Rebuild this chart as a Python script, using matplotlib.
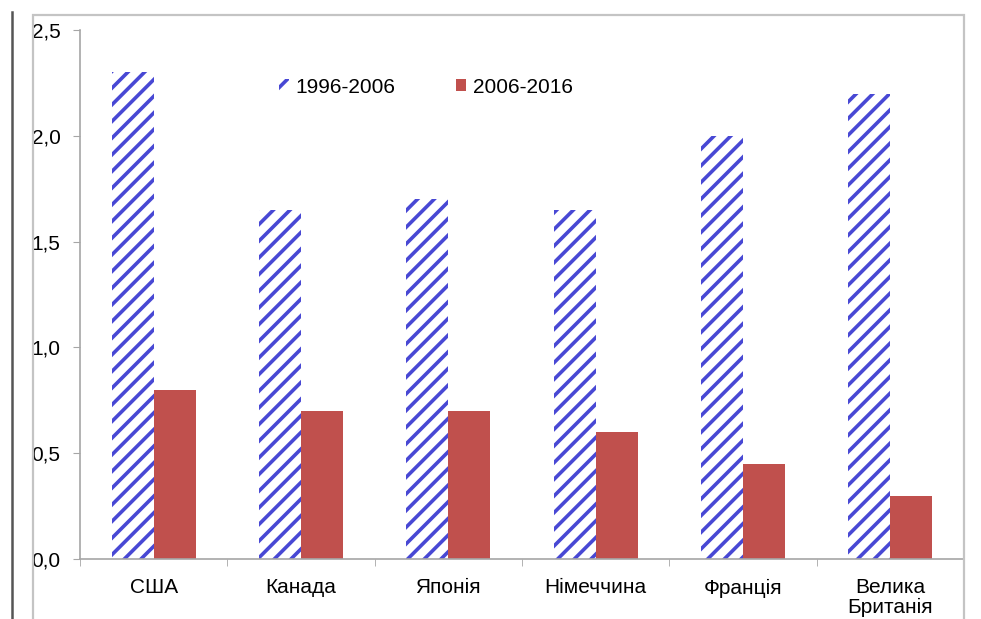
import matplotlib
matplotlib.use('Agg')
import matplotlib.pyplot as plt
import numpy as np
from matplotlib.patches import Rectangle
from matplotlib.lines import Line2D

plt.rcParams['font.family'] = ['Liberation Sans', 'DejaVu Sans']
plt.rcParams['hatch.linewidth'] = 2.6

countries = ['США', 'Канада', 'Японія', 'Німеччина', 'Франція', 'Велика\nБританія']
period_1 = [2.3, 1.65, 1.7, 1.65, 2.0, 2.2]
period_2 = [0.8, 0.7, 0.7, 0.6, 0.45, 0.3]
labels = ['1996-2006', '2006-2016']
yticks = [0.0, 0.5, 1.0, 1.5, 2.0, 2.5]

blue = '#4848d4'
red = '#c0504d'
grey = '#a6a6a6'
fs = 15

fig = plt.figure(figsize=(9.81, 6.19), dpi=100)
ax = fig.add_axes([0.0815, 0.0969, 0.9012, 0.8546])

x = np.arange(len(countries))
w = 0.285
ax.bar(x - w / 2, period_1, w, facecolor='white', edgecolor=blue,
       linewidth=0, hatch='//', label=labels[0])
ax.bar(x + w / 2, period_2, w, color=red, linewidth=0, label=labels[1])

ax.set_xlim(-0.5, len(countries) - 0.5)
ax.set_ylim(0, 2.5)
ax.set_yticks(yticks)
ax.set_yticklabels([('%.1f' % v).replace('.', ',') for v in yticks], fontsize=fs)
ax.set_xticks(x)
ax.set_xticklabels(countries, fontsize=fs, linespacing=1.05)
ax.tick_params(axis='x', length=0, pad=14)
ax.tick_params(axis='y', length=5, color=grey, pad=9)
# category boundary ticks
ax.set_xticks(np.arange(-0.5, len(countries)), minor=True)
ax.tick_params(axis='x', which='minor', length=5, color=grey)

for s in ['top', 'right']:
    ax.spines[s].set_visible(False)
for s in ['left', 'bottom']:
    ax.spines[s].set_color(grey)
    ax.spines[s].set_linewidth(1.2)

ax.legend(loc='center', bbox_to_anchor=(0.391, 0.892), ncol=2, frameon=False,
          fontsize=fs, handlelength=0.5, handleheight=0.5,
          handletextpad=0.3, columnspacing=2.9)

# outer chart frame and page line
fig.add_artist(Rectangle((33 / 981, -0.05), (964 - 33) / 981, (619 - 15) / 619 + 0.05,
                         transform=fig.transFigure, fill=False,
                         edgecolor='#c4c4c4', linewidth=1.6))
fig.add_artist(Line2D([12 / 981, 12 / 981], [0, 1 - 12 / 619],
                      transform=fig.transFigure, color='#555555', linewidth=1.8))

fig.savefig('out.png', dpi=100)
